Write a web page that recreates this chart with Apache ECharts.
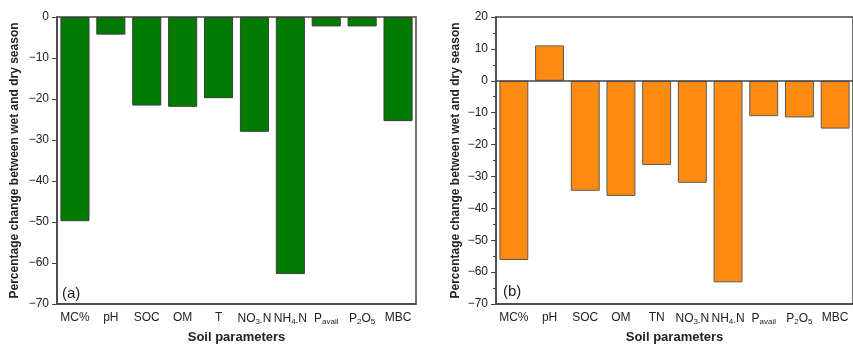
<!DOCTYPE html>
<html>
<head>
<meta charset="utf-8">
<script src="https://cdn.jsdelivr.net/npm/echarts@6/dist/echarts.min.js"></script>
<style>
  html, body { margin: 0; padding: 0; background: #fff; }
  #chart { width: 853px; height: 349px; }
</style>
</head>
<body>
<div id="chart"></div>
<script>
// categories (rich text for subscripts)
const labelsA = ['MC%', 'pH', 'SOC', 'OM', 'T', 'NO{s|3-}N', 'NH{s|4-}N', 'P{s|avail}', 'P{s|2}O{s|5}', 'MBC'];
const labelsB = ['MC%', 'pH', 'SOC', 'OM', 'TN', 'NO{s|3-}N', 'NH{s|4-}N', 'P{s|avail}', 'P{s|2}O{s|5}', 'MBC'];
// percentage change between wet and dry season
const valuesA = [-49.8, -4.3, -21.6, -21.9, -19.8, -28.0, -62.7, -2.3, -2.3, -25.4];
const valuesB = [-56.2, 11.1, -34.5, -36.1, -26.4, -32.0, -63.2, -11.1, -11.5, -15.0];

const font = "'Liberation Sans', Arial, sans-serif";
const ink = '#222';
const frame = '#444';
const yTitle = 'Percentage change between wet and dry season';

const richSub = {
  s: { fontSize: 8, fontFamily: font, color: ink, verticalAlign: 'bottom', padding: [6, 0, 0, 0] }
};

function xAxis(idx, labels) {
  return {
    type: 'category', gridIndex: idx, data: labels, position: 'bottom',
    name: 'Soil parameters', nameLocation: 'middle', nameGap: 27,
    nameTextStyle: { fontFamily: font, fontWeight: 'bold', fontSize: 13, color: ink },
    axisLine: { onZero: false, lineStyle: { color: frame, width: 1.5 } },
    axisTick: { show: false },
    axisLabel: { fontFamily: font, fontSize: 12, color: ink, margin: 8, interval: 0, rich: richSub }
  };
}

function yAxis(idx, min, max, minor, gap) {
  return {
    type: 'value', gridIndex: idx, min: min, max: max, interval: 10,
    name: yTitle, nameLocation: 'middle', nameRotate: 90, nameGap: gap,
    nameTextStyle: { fontFamily: font, fontWeight: 'bold', fontSize: 12, color: ink },
    axisLine: { show: true, lineStyle: { color: frame, width: 1.5 } },
    axisTick: { show: true, inside: false, length: 5, lineStyle: { color: frame } },
    minorTick: { show: minor, splitNumber: 2, length: 3, lineStyle: { color: frame } },
    splitLine: { show: false },
    axisLabel: {
      fontFamily: font, fontSize: 12, color: ink, margin: 8,
      formatter: v => String(v).replace('-', '\u2212')
    }
  };
}

const chart = echarts.init(document.getElementById('chart'));
chart.setOption({
  animation: false,
  grid: [
    { left: 57, top: 17, width: 359, height: 291, show: true, borderColor: frame, borderWidth: 1.5 },
    { left: 496, top: 17, width: 363, height: 291, show: true, borderColor: frame, borderWidth: 1.5 }
  ],
  xAxis: [xAxis(0, labelsA), xAxis(1, labelsB)],
  yAxis: [yAxis(0, -70, 0, false, 36), yAxis(1, -70, 20, true, 34)],
  series: [
    {
      type: 'bar', xAxisIndex: 0, yAxisIndex: 0, data: valuesA, barWidth: '81%',
      itemStyle: { color: '#007a00', borderColor: '#3d3d3d', borderWidth: 1 }
    },
    {
      type: 'bar', xAxisIndex: 1, yAxisIndex: 1, data: valuesB, barWidth: '81%',
      itemStyle: { color: '#fd8b12', borderColor: '#5a5a5a', borderWidth: 1 },
      markLine: {
        silent: true, symbol: 'none', label: { show: false },
        lineStyle: { color: frame, width: 1.5, type: 'solid' },
        data: [{ yAxis: 0 }]
      }
    }
  ],
  graphic: [
    { type: 'text', left: 62, top: 286, style: { text: '(a)', font: '15px ' + font, fill: ink } },
    { type: 'text', left: 503, top: 284, style: { text: '(b)', font: '15px ' + font, fill: ink } }
  ]
});
</script>
</body>
</html>
